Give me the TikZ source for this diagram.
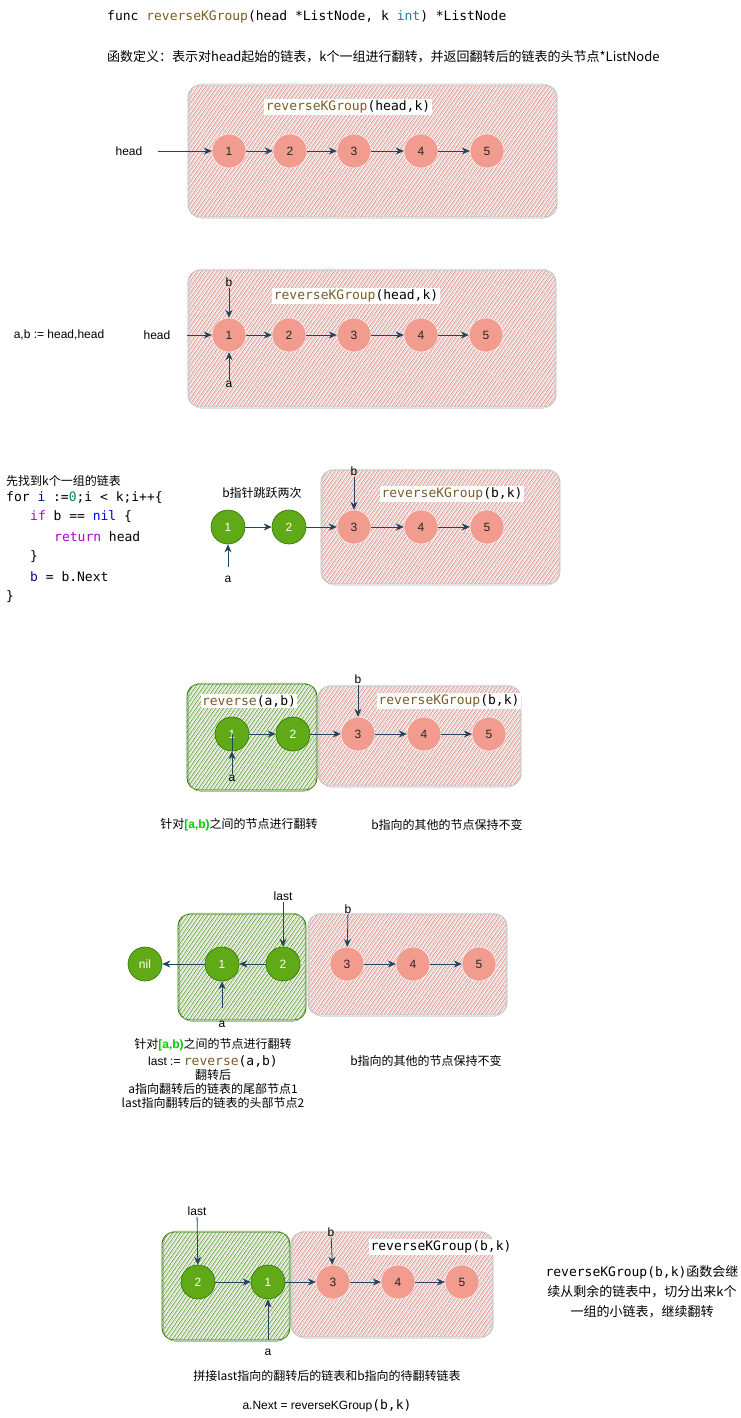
\documentclass[tikz,border=0pt]{standalone}
\usepackage{fontspec}
\setmainfont{Liberation Sans}
\setmonofont{DejaVu Sans Mono}
\newfontfamily\cjk{Noto Sans CJK SC}
\usetikzlibrary{arrows.meta,patterns.meta}
\definecolor{nred}{HTML}{F19C8F}
\definecolor{ngreen}{HTML}{60A917}
\definecolor{dgreen}{HTML}{2D7600}
\definecolor{arrcol}{HTML}{23445D}
\definecolor{hred}{HTML}{EE8F86}
\definecolor{hgray}{HTML}{C8C8C8}
\definecolor{hgreen}{HTML}{6AAE35}
\definecolor{bgray}{HTML}{BDBDBD}
\definecolor{fnbrown}{HTML}{795E26}
\definecolor{kwteal}{HTML}{267F99}
\definecolor{kwpurple}{HTML}{AF00DB}
\definecolor{kwblue}{HTML}{0000FF}
\definecolor{varblue}{HTML}{001080}
\definecolor{numgreen}{HTML}{098658}
\definecolor{brgreen}{HTML}{00CC00}
\newcommand{\redhatch}[4]{%
  \path[rounded corners=12pt, pattern={Lines[angle=55,distance=3.2pt,line width=0.8pt]}, pattern color=hred] (#1,#2) rectangle (#3,#4);
  \path[rounded corners=12pt, pattern={Lines[angle=55,distance=3.2pt,line width=0.6pt,xshift=1.6pt]}, pattern color=hgray] (#1,#2) rectangle (#3,#4);
  \draw[bgray, line width=0.7pt, rounded corners=12pt] (#1,#2) rectangle (#3,#4);
  \draw[bgray!70, line width=0.5pt, rounded corners=13pt] ({#1+1.5},{#2-1}) rectangle ({#3-1},{#4+1.5});
}
\newcommand{\greenhatch}[4]{%
  \path[rounded corners=12pt, pattern={Lines[angle=55,distance=3.2pt,line width=0.8pt]}, pattern color=hgreen] (#1,#2) rectangle (#3,#4);
  \path[rounded corners=12pt, pattern={Lines[angle=55,distance=3.2pt,line width=0.6pt,xshift=1.6pt]}, pattern color=hgray] (#1,#2) rectangle (#3,#4);
  \draw[dgreen, line width=0.8pt, rounded corners=12pt] (#1,#2) rectangle (#3,#4);
  \draw[dgreen!60, line width=0.5pt, rounded corners=13pt] ({#1+1.5},{#2-1}) rectangle ({#3-1},{#4+1.5});
}
\tikzset{
  rnode/.style={circle, fill=nred, draw=white, line width=0.4pt, minimum size=34pt, inner sep=0pt, font=\fontsize{12}{14}\selectfont, text=black!85},
  gnode/.style={circle, fill=ngreen, draw=dgreen, line width=0.6pt, minimum size=34pt, inner sep=0pt, font=\fontsize{12}{14}\selectfont, text=white},
  link/.style={draw=arrcol, line width=0.8pt, -{Stealth[length=8pt,width=7pt]}},
  txt/.style={font=\fontsize{12}{14}\selectfont, inner sep=1pt},
  cn/.style={font=\cjk\fontsize{12}{14}\selectfont, inner sep=1pt},
  cnbig/.style={font=\cjk\fontsize{13}{15}\selectfont, inner sep=1pt},
  mono/.style={font=\ttfamily\fontsize{13}{15}\selectfont, inner sep=1pt},
  lab/.style={font=\ttfamily\fontsize{13}{15}\selectfont, fill=white, inner sep=1.5pt},
}
\begin{document}
\begin{tikzpicture}[x=1pt,y=-1pt]
\useasboundingbox (0,0) rectangle (741,1418);
\fill[white] (0,0) rectangle (741,1418);

% ---------- header
\node[mono, anchor=west] (sig) at (106,17) {func \textcolor{fnbrown}{reverseKGroup}(head *ListNode, k \textcolor{kwteal}{int}) *ListNode};
\node[cnbig, anchor=west] (def) at (106,57) {函数定义：表示对head起始的链表，k个一组进行翻转，并返回翻转后的链表的头节点*ListNode};

% ---------- section 1
\redhatch{188}{85}{557}{217}
\node[lab] (l1) at (348,107) {\textcolor{fnbrown}{reverseKGroup}(head,k)};
\node[rnode] (n11) at (229,151) {1};
\node[rnode] (n12) at (290,151) {2};
\node[rnode] (n13) at (354,151) {3};
\node[rnode] (n14) at (421,151) {4};
\node[rnode] (n15) at (487,151) {5};
\node[txt] (head1) at (129,151) {head};
\coordinate (h1s) at (158,151);
\draw[link] (h1s) -- (n11);
\draw[link] (n11) -- (n12);
\draw[link] (n12) -- (n13);
\draw[link] (n13) -- (n14);
\draw[link] (n14) -- (n15);

% ---------- section 2
\redhatch{188}{270}{556}{407}
\node[lab] (l2) at (356,296) {\textcolor{fnbrown}{reverseKGroup}(head,k)};
\node[rnode] (n21) at (229,335) {1};
\node[rnode] (n22) at (289,335) {2};
\node[rnode] (n23) at (354,335) {3};
\node[rnode] (n24) at (421,335) {4};
\node[rnode] (n25) at (486,335) {5};
\node[txt] (head2) at (157,335) {head};
\node[txt] (ab) at (59,335) {a,b := head,head};
\coordinate (h2s) at (187,335);
\node[txt] (b2) at (229,282) {b};
\node[txt] (a2) at (229,384) {a};
\draw[link] (h2s) -- (n21);
\draw[link] (b2) -- (n21);
\draw[link] (a2) -- (n21);
\draw[link] (n21) -- (n22);
\draw[link] (n22) -- (n23);
\draw[link] (n23) -- (n24);
\draw[link] (n24) -- (n25);

% ---------- section 3
\node[cn, anchor=west] (c0) at (5,481) {先找到k个一组的链表};
\node[mono, anchor=west] (c1) at (5,498) {for \textcolor{varblue}{i} :=\textcolor{numgreen}{0};i < k;i++\{};
\node[mono, anchor=west] (c2) at (29,517) {\textcolor{kwpurple}{if} b == \textcolor{kwblue}{nil} \{};
\node[mono, anchor=west] (c3) at (53,537) {\textcolor{kwpurple}{return} head};
\node[mono, anchor=west] (c4) at (29,557) {\}};
\node[mono, anchor=west] (c5) at (29,577) {\textcolor{varblue}{b} = b.Next};
\node[mono, anchor=west] (c6) at (5,597) {\}};
\node[cn] (jump) at (262,493) {b指针跳跃两次};
\redhatch{321}{470}{560}{584}
\node[lab] (l3) at (452,494) {\textcolor{fnbrown}{reverseKGroup}(b,k)};
\node[gnode] (g31) at (228,527) {1};
\node[gnode] (g32) at (289,527) {2};
\node[rnode] (n33) at (354,527) {3};
\node[rnode] (n34) at (421,527) {4};
\node[rnode] (n35) at (487,527) {5};
\node[txt] (b3) at (354,471) {b};
\node[txt] (a3) at (228,579) {a};
\coordinate (a3s) at (228,567);
\draw[link] (b3) -- (n33);
\draw[link] (a3s) -- (g31);
\draw[link] (g31) -- (g32);
\draw[link] (g32) -- (n33);
\draw[link] (n33) -- (n34);
\draw[link] (n34) -- (n35);

% ---------- section 4
\redhatch{318}{686}{521}{786}
\greenhatch{187}{684}{317}{790}
\node[lab] (l4a) at (249,701) {\textcolor{fnbrown}{reverse}(a,b)};
\node[lab] (l4b) at (449,701) {\textcolor{fnbrown}{reverseKGroup}(b,k)};
\node[gnode] (g41) at (232,734) {1};
\node[gnode] (g42) at (293,734) {2};
\node[rnode] (n43) at (358,734) {3};
\node[rnode] (n44) at (424,734) {4};
\node[rnode] (n45) at (489,734) {5};
\node[txt] (b4) at (358,679) {b};
\node[txt] (a4) at (232,778) {a};
\draw[arrcol, line width=0.8pt] (g41.center) -- (g41.south);
\draw[link] (a4) -- (g41);
\draw[link] (b4) -- (n43);
\draw[link] (g41) -- (g42);
\draw[link] (g42) -- (n43);
\draw[link] (n43) -- (n44);
\draw[link] (n44) -- (n45);
\node[cn] (cap4a) at (239,825) {针对{\rmfamily\bfseries\textcolor{brgreen}{[a,b)}}之间的节点进行翻转};
\node[cn] (cap4b) at (447,825) {b指向的其他的节点保持不变};

% ---------- section 5
\redhatch{308}{914}{507}{1015}
\greenhatch{178}{914}{306}{1020}
\node[gnode] (nil) at (145,964) {nil};
\node[gnode] (g51) at (222,964) {1};
\node[gnode] (g52) at (283,964) {2};
\node[rnode] (n53) at (347,964) {3};
\node[rnode] (n54) at (413,964) {4};
\node[rnode] (n55) at (479,964) {5};
\node[txt] (last5) at (283,896) {last};
\node[txt] (b5) at (348,909) {b};
\node[txt] (a5) at (222,1024) {a};
\coordinate (a5s) at (222,1008);
\draw[link] (last5) -- (g52);
\draw[link] (b5) -- (n53);
\draw[link] (a5s) -- (g51);
\draw[link] (g52) -- (g51);
\draw[link] (g51) -- (nil);
\draw[link] (n53) -- (n54);
\draw[link] (n54) -- (n55);
\node[cn] (cap5a) at (213,1045) {针对{\rmfamily\bfseries\textcolor{brgreen}{[a,b)}}之间的节点进行翻转};
\node[txt] (cap5b) at (213,1061) {last := {\ttfamily\fontsize{13}{15}\selectfont\textcolor{fnbrown}{reverse}(a,b)}};
\node[cn] (cap5c) at (213,1075) {翻转后};
\node[cn] (cap5d) at (213,1089) {a指向翻转后的链表的尾部节点1};
\node[cn] (cap5e) at (213,1103) {last指向翻转后的链表的头部节点2};
\node[cn] (cap5f) at (426,1061) {b指向的其他的节点保持不变};

% ---------- section 6
\redhatch{291}{1232}{493}{1337}
\greenhatch{162}{1232}{290}{1340}
\node[lab] (l6) at (441,1247) {reverseKGroup(b,k)};
\node[gnode] (g62) at (198,1282) {2};
\node[gnode] (g61) at (268,1282) {1};
\node[rnode] (n63) at (333,1282) {3};
\node[rnode] (n64) at (398,1282) {4};
\node[rnode] (n65) at (462,1282) {5};
\node[txt] (last6) at (197,1211) {last};
\node[txt] (b6) at (331,1232) {b};
\node[txt] (a6) at (268,1352) {a};
\coordinate (a6s) at (268,1340);
\draw[link] (last6) -- (g62);
\draw[link] (b6) -- (n63);
\draw[link] (a6s) -- (g61);
\draw[link] (g62) -- (g61);
\draw[link] (g61) -- (n63);
\draw[link] (n63) -- (n64);
\draw[link] (n64) -- (n65);
\node[cnbig] (r1) at (642,1272) {{\ttfamily reverseKGroup(b,k)}函数会继};
\node[cnbig] (r2) at (642,1292) {续从剩余的链表中，切分出来k个};
\node[cnbig] (r3) at (642,1312) {一组的小链表，继续翻转};
\node[cn] (bot1) at (327,1376) {拼接last指向的翻转后的链表和b指向的待翻转链表};
\node[txt] (bot2) at (327,1406) {a.Next = reverseKGroup{\ttfamily\fontsize{13}{15}\selectfont(b,k)}};
\end{tikzpicture}
\end{document}
